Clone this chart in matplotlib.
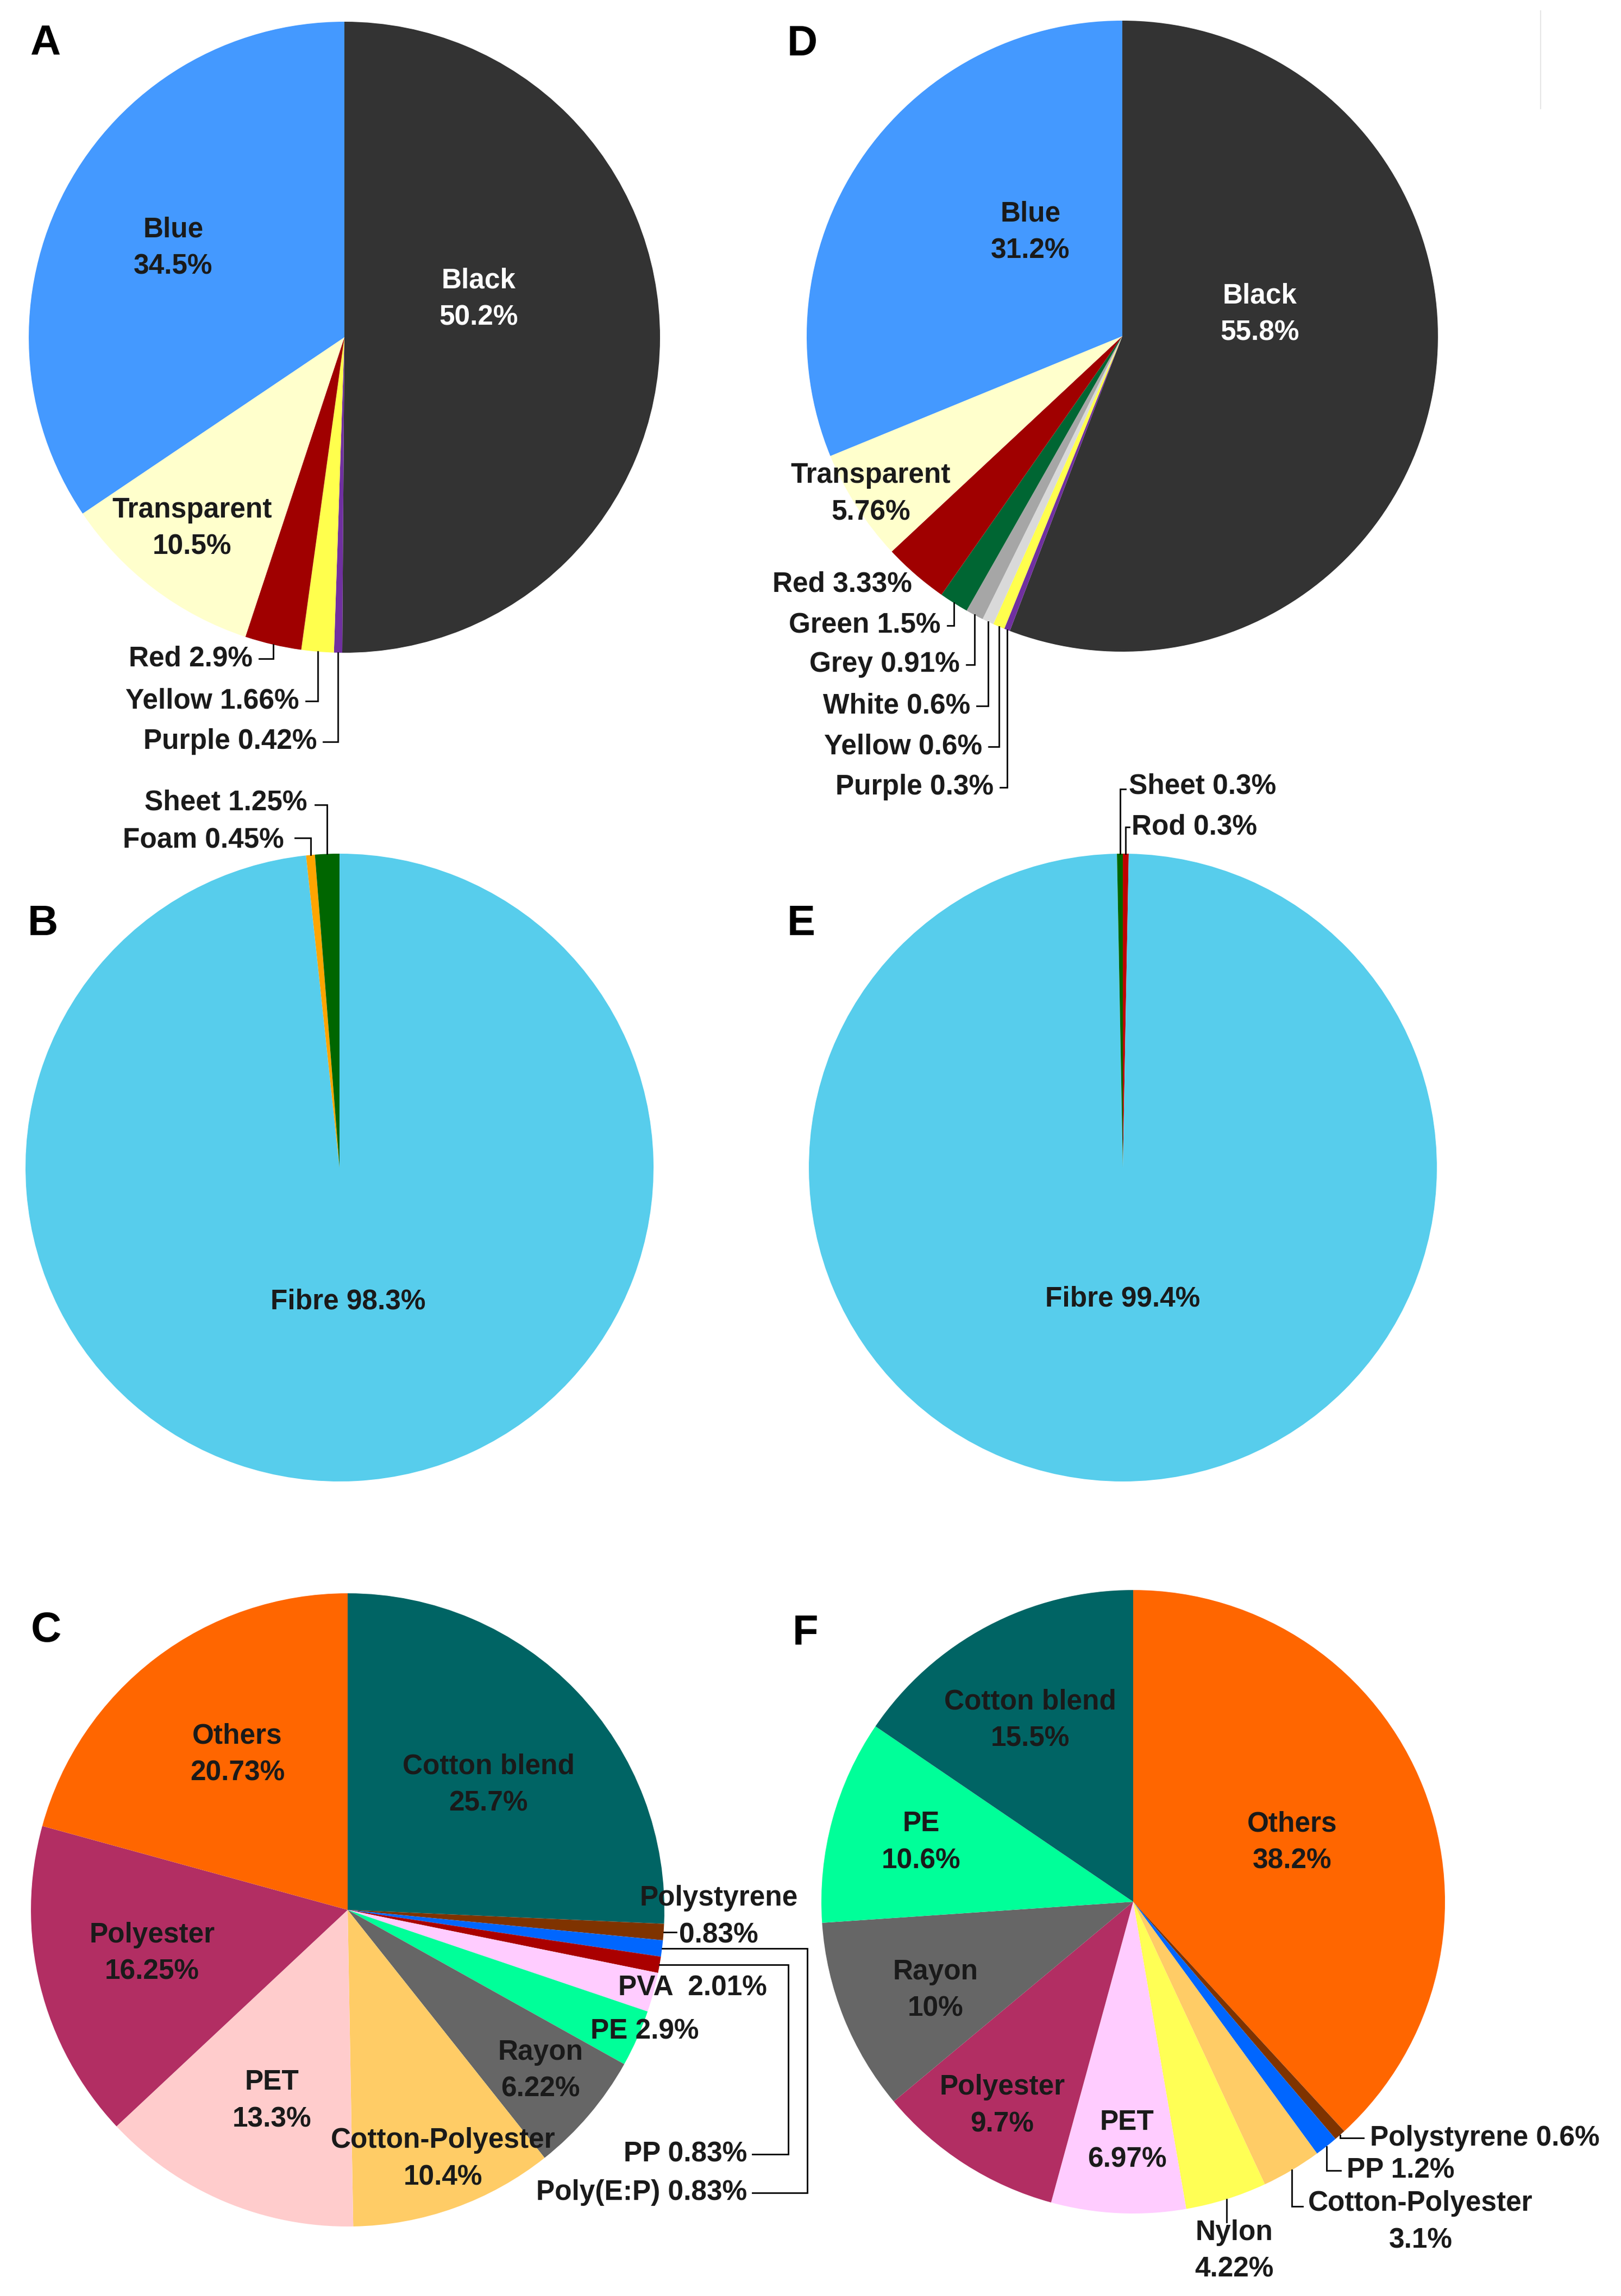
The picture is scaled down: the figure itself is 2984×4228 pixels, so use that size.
import matplotlib
matplotlib.use('Agg')
import matplotlib.pyplot as plt
import numpy as np

plt.rcParams['font.family'] = ['Liberation Sans', 'DejaVu Sans']

W, H = 2984, 4228

# ---------------- data ----------------
# A: colour of particles (site 1)
a_labels = ['Black', 'Purple', 'Yellow', 'Red', 'Transparent', 'Blue']
a_values = [50.2, 0.42, 1.66, 2.9, 10.5, 34.5]
a_colors = ['#333333', '#7030a0', '#ffff4d', '#a00000', '#ffffcc', '#4499ff']

# D: colour of particles (site 2)
d_labels = ['Black', 'Purple', 'Yellow', 'White', 'Grey', 'Green', 'Red',
            'Transparent', 'Blue']
d_values = [55.8, 0.3, 0.6, 0.6, 0.91, 1.5, 3.33, 5.76, 31.2]
d_colors = ['#333333', '#7030a0', '#ffff4d', '#d9d9d9', '#a6a6a6', '#006633',
            '#a00000', '#ffffcc', '#4499ff']

# B / E: shape
b_labels = ['Fibre', 'Foam', 'Sheet']
b_values = [98.3, 0.45, 1.25]
b_colors = ['#57cdec', '#ffa500', '#006600']

e_labels = ['Rod', 'Fibre', 'Sheet']
e_values = [0.3, 99.4, 0.3]
e_colors = ['#c00000', '#57cdec', '#006600']

# C / F: polymer type
c_labels = ['Cotton blend', 'Polystyrene', 'Poly(E:P)', 'PP', 'PVA', 'PE', 'Rayon',
            'Cotton-Polyester', 'PET', 'Polyester', 'Others']
c_values = [25.7, 0.83, 0.83, 0.83, 2.01, 2.9, 6.22, 10.4, 13.3, 16.25, 20.73]
c_colors = ['#006464', '#7f3300', '#0066ff', '#aa0000', '#ffccff', '#00ff99',
            '#666666', '#ffcc66', '#ffcccc', '#b22e63', '#ff6600']

f_labels = ['Others', 'Polystyrene', 'PP', 'Cotton-Polyester', 'Nylon', 'PET',
            'Polyester', 'Rayon', 'PE', 'Cotton blend']
f_values = [38.2, 0.6, 1.2, 3.1, 4.22, 6.97, 9.7, 10, 10.6, 15.5]
f_colors = ['#ff6600', '#7f3300', '#0066ff', '#ffcc66', '#ffff55', '#ffccff',
            '#b22e63', '#666666', '#00ff99', '#006464']

# ---------------- layout (image pixels, y down) ----------------
DARK = '#1a1a1a'
ML = '{n}\n{p}'
SL = '{n} {p}'

panels = [
    dict(letter='A', lpos=(83, 80), center=(634, 621), r=581,
         labels=a_labels, values=a_values, colors=a_colors,
         text={
             'Black': (881, 551, 'center', ML, 'white', None),
             'Blue': (319, 457, 'center', ML, DARK, None),
             'Transparent': (354, 973, 'center', ML, DARK, None),
             'Red': (465, 1213, 'right', SL, DARK, ('vh', 1213, 477)),
             'Yellow': (551, 1291, 'right', SL, DARK, ('vh', 1291, 563)),
             'Purple': (583, 1366, 'right', SL, DARK, ('vh', 1366, 595)),
         }),
    dict(letter='D', lpos=(1477, 81), center=(2066, 619), r=581,
         labels=d_labels, values=d_values, colors=d_colors,
         text={
             'Black': (2319, 579, 'center', ML, 'white', None),
             'Blue': (1897, 428, 'center', ML, DARK, None),
             'Transparent': (1603, 910, 'center', ML, DARK, None),
             'Red': (1679, 1076, 'right', SL, DARK, None),
             'Green': (1732, 1152, 'right', SL, DARK, ('vh', 1152, 1744)),
             'Grey': (1767, 1224, 'right', SL, DARK, ('vh', 1224, 1779)),
             'White': (1786, 1300, 'right', SL, DARK, ('vh', 1300, 1798)),
             'Yellow': (1808, 1375, 'right', SL, DARK, ('vh', 1375, 1820)),
             'Purple': (1829, 1450, 'right', SL, DARK, ('vh', 1450, 1841)),
         }),
    dict(letter='B', lpos=(79, 1701), center=(625, 2150), r=578,
         labels=b_labels, values=b_values, colors=b_colors,
         text={
             'Fibre': (641, 2397, 'center', SL, DARK, None),
             'Foam': (523, 1548, 'right', SL, DARK, ('vh', 1543, 543)),
             'Sheet': (565, 1478, 'right', SL, DARK, ('vh', 1482, 580)),
         }),
    dict(letter='E', lpos=(1475, 1701), center=(2067, 2150), r=578,
         labels=e_labels, values=e_values, colors=e_colors,
         text={
             'Fibre': (2067, 2392, 'center', SL, DARK, None),
             'Sheet': (2078, 1448, 'left', SL, DARK, ('vh', 1453, 2072)),
             'Rod': (2083, 1523, 'left', SL, DARK, ('vh', 1523, 2079)),
         }),
    dict(letter='C', lpos=(85, 3002), center=(640, 3517), r=583,
         labels=c_labels, values=c_values, colors=c_colors,
         text={
             'Cotton blend': (899, 3287, 'center', ML, DARK, None),
             'Others': (437, 3231, 'center', ML, DARK, None),
             'Polyester': (280, 3597, 'center', ML, DARK, None),
             'PET': (501, 3869, 'center', ML, DARK, None),
             'Cotton-Polyester': (816, 3976, 'center', ML, DARK, None),
             'Rayon': (995, 3813, 'center', ML, DARK, None),
             'PE': (1187, 3741, 'center', SL, DARK, None),
             'PVA': (1275, 3661, 'center', '{n}  {p}', DARK, None),
             'Polystyrene': (1323, 3530, 'center', ML, DARK, ('h', 1245)),
             'Poly(E:P)': (1375, 4038, 'right', SL, DARK, ('hvh', 1486, 4038, 1385)),
             'PP': (1375, 3967, 'right', SL, DARK, ('hvh', 1451, 3967, 1385)),
         }),
    dict(letter='F', lpos=(1482, 3008), center=(2086, 3502), r=574,
         labels=f_labels, values=f_values, colors=f_colors,
         text={
             'Others': (2379, 3393, 'center', ML, DARK, None),
             'Cotton blend': (1896, 3168, 'center', ML, DARK, None),
             'PE': (1696, 3393, 'center', ML, DARK, None),
             'Rayon': (1722, 3665, 'center', ML, DARK, None),
             'Polyester': (1845, 3878, 'center', ML, DARK, None),
             'PET': (2075, 3943, 'center', ML, DARK, None),
             'Nylon': (2272, 4145, 'center', ML, DARK, ('v', 4092)),
             'Cotton-Polyester': (2615, 4092, 'center', ML, DARK, ('vh', 4063, 2398)),
             'PP': (2479, 3997, 'left', SL, DARK, ('vh', 3997, 2468)),
             'Polystyrene': (2522, 3937, 'left', SL, DARK, ('vh', 3937, 2510)),
         }),
]

FS = 37        # slice label size
LETTER_FS = 56
LW = 2.0


def fmt(v):
    return '{:g}%'.format(v)


fig = plt.figure(figsize=(W / 100, H / 100), dpi=100)
ax = fig.add_axes([0, 0, 1, 1])

for pnl in panels:
    cx, cy = pnl['center']
    r = pnl['r']
    wedges, _ = ax.pie(pnl['values'], colors=pnl['colors'], startangle=90,
                       counterclock=False, center=(cx, H - cy), radius=r,
                       wedgeprops=dict(linewidth=0, edgecolor='none'))
    for name, w in zip(pnl['labels'], wedges):
        if name not in pnl['text']:
            continue
        x, y, ha, tmpl, col, lead = pnl['text'][name]
        v = pnl['values'][pnl['labels'].index(name)]
        ax.text(x, H - y, tmpl.format(n=name, p=fmt(v)), ha=ha, va='center',
                fontsize=FS, fontweight='bold', color=col, linespacing=1.5,
                multialignment='center')
        if lead is None:
            continue
        mid = np.deg2rad((w.theta1 + w.theta2) / 2)
        ex = cx + r * np.cos(mid)
        ey = cy - r * np.sin(mid)
        if lead[0] == 'vh':
            pts = [(ex, ey), (ex, lead[1]), (lead[2], lead[1])]
        elif lead[0] == 'hvh':
            pts = [(ex, ey), (lead[1], ey), (lead[1], lead[2]), (lead[3], lead[2])]
        elif lead[0] == 'h':
            pts = [(ex, ey), (lead[1], ey)]
        else:
            pts = [(ex, ey), (ex, lead[1])]
        xs = [p[0] for p in pts]
        ys = [H - p[1] for p in pts]
        ax.plot(xs, ys, color='black', lw=LW, solid_joinstyle='miter')
    lx, ly = pnl['lpos']
    ax.text(lx, H - ly, pnl['letter'], ha='center', va='center',
            fontsize=LETTER_FS, fontweight='bold', color='black')

# faint scan artefact at top right
ax.plot([2836, 2836], [H - 20, H - 200], color='#e6e6e6', lw=1.5)

ax.set_xlim(0, W)
ax.set_ylim(0, H)
ax.set_aspect('equal')
ax.axis('off')

fig.savefig('out.png', dpi=100, facecolor='white')
